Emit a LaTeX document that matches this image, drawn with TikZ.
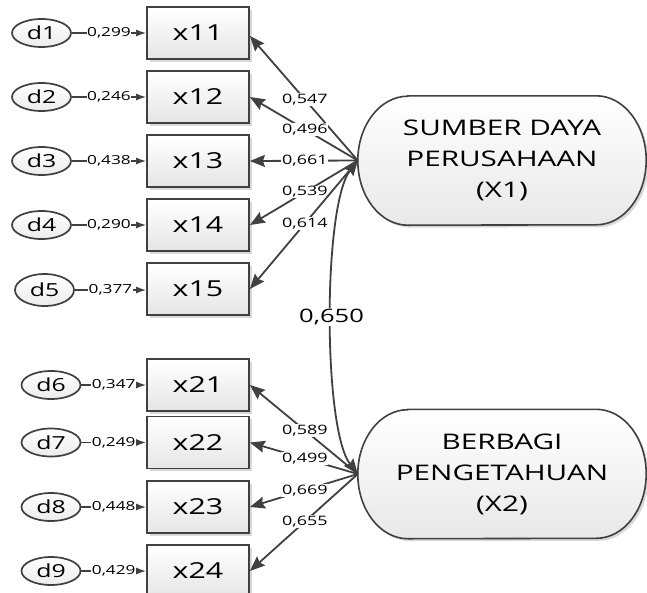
\documentclass[tikz,border=0pt]{standalone}
\usepackage{fontspec}
\setmainfont{Open Sans}[FakeStretch=1.38]
\usetikzlibrary{arrows.meta,shadows,shapes.geometric,backgrounds}
\definecolor{ink}{HTML}{404040}
\begin{document}
\begin{tikzpicture}[x=1pt,y=-1pt,
 ind/.style={draw=ink, line width=1.8pt, top color=white, bottom color=gray!20,
   minimum width=102pt, minimum height=52pt, inner sep=0pt,
   font=\fontsize{22}{26}\selectfont,
   drop shadow={shadow xshift=2.5pt, shadow yshift=-2.5pt, opacity=0.3}},
 err/.style={ellipse, draw=ink, line width=1.7pt, top color=white, bottom color=gray!15,
   minimum width=59pt, minimum height=28pt, inner sep=0pt,
   font=\fontsize{18}{20}\selectfont},
 lat/.style={minimum width=288pt, minimum height=129pt, align=center,
   font=\fontsize{21.5}{31}\selectfont},
 latshape/.style={draw=ink, line width=1.6pt, top color=white, bottom color=gray!18,
   drop shadow={shadow xshift=2.5pt, shadow yshift=-2.5pt, opacity=0.3}},
 load/.style={draw=ink, line width=1.8pt, -{Stealth[length=15pt,width=12pt,inset=2pt]}},
 cov/.style={draw=ink, line width=1.8pt,
   {Stealth[length=15pt,width=12pt,inset=2pt]}-{Stealth[length=15pt,width=12pt,inset=2pt]}},
 errl/.style={draw=ink, line width=1.4pt, -{Latex[length=10pt,width=7pt]}},
 lbl/.style={fill=white, inner sep=0.8pt, font=\fontsize{13}{14}\selectfont},
 covl/.style={fill=white, inner sep=1pt, font=\fontsize{18.5}{20}\selectfont},
 elbl/.style={fill=white, inner sep=0.5pt, font=\fontsize{12.5}{13}\selectfont}
]
\useasboundingbox (0,0) rectangle (647,592);

% latent variables
\node[lat] (X1) at (502,160.5) {SUMBER DAYA\\PERUSAHAAN\\(X1)};
\node[lat] (X2) at (502,474) {BERBAGI\\PENGETAHUAN\\(X2)};
\begin{scope}[on background layer]
\foreach \n in {X1,X2}{
  \path[latshape] ([xshift=50pt]\n.north west) -- ([xshift=-50pt]\n.north east)
    arc[x radius=50pt, y radius=64.5pt, start angle=90, end angle=-90]
    -- ([xshift=50pt]\n.south west)
    arc[x radius=50pt, y radius=64.5pt, start angle=270, end angle=90] -- cycle;
}
\end{scope}

% indicators
\node[ind] (x11) at (198,33) {x11};
\node[ind] (x12) at (198,97) {x12};
\node[ind] (x13) at (198,161) {x13};
\node[ind] (x14) at (198,225) {x14};
\node[ind] (x15) at (198,289) {x15};
\node[ind] (x21) at (198,385) {x21};
\node[ind] (x22) at (198,442.5) {x22};
\node[ind] (x23) at (198,507) {x23};
\node[ind] (x24) at (198,571) {x24};

% errors
\node[err] (d1) at (41.5,33) {d1};
\node[err] (d2) at (41.5,97) {d2};
\node[err] (d3) at (41.5,161) {d3};
\node[err] (d4) at (41.5,225) {d4};
\node[err, minimum height=32pt] (d5) at (44.5,290) {d5};
\node[err] (d6) at (51,385) {d6};
\node[err] (d7) at (51,442.5) {d7};
\node[err] (d8) at (51,507) {d8};
\node[err] (d9) at (51,571) {d9};

% error paths
\draw[errl] (d1) -- node[elbl]{0,299} (x11);
\draw[errl] (d2) -- node[elbl]{0,246} (x12);
\draw[errl] (d3) -- node[elbl]{0,438} (x13);
\draw[errl] (d4) -- node[elbl]{0,290} (x14);
\draw[errl] (d5.east) -- node[elbl]{0,377} (d5.east -| x15.west);
\draw[errl] (d6) -- node[elbl]{0,347} (x21);
\draw[errl] (d7) -- node[elbl]{0,249} (x22);
\draw[errl] (d8) -- node[elbl]{0,448} (x23);
\draw[errl] (d9) -- node[elbl]{0,429} (x24);

% loadings
\draw[load] (X1.west) -- node[lbl,pos=0.49]{0,547} ([yshift=-3pt]x11.east);
\draw[load] (X1.west) -- node[lbl,pos=0.49]{0,496} (x12.east);
\draw[load] (X1.west) -- node[lbl,pos=0.49]{0,661} (x13.east);
\draw[load] (X1.west) -- node[lbl,pos=0.49]{0,539} (x14.east);
\draw[load] (X1.west) -- node[lbl,pos=0.49]{0,614} (x15.east);
\draw[load] (X2.west) -- node[lbl,pos=0.49]{0,589} (x21.east);
\draw[load] (X2.west) -- node[lbl,pos=0.49]{0,499} (x22.east);
\draw[load] (X2.west) -- node[lbl,pos=0.49]{0,669} (x23.east);
\draw[load] (X2.west) -- node[lbl,pos=0.49]{0,655} (x24.east);

% covariance
\draw[cov] (X1.west) .. controls +(-35,45) and +(-35,-45) .. node[covl]{0,650} (X2.west);
\end{tikzpicture}
\end{document}
